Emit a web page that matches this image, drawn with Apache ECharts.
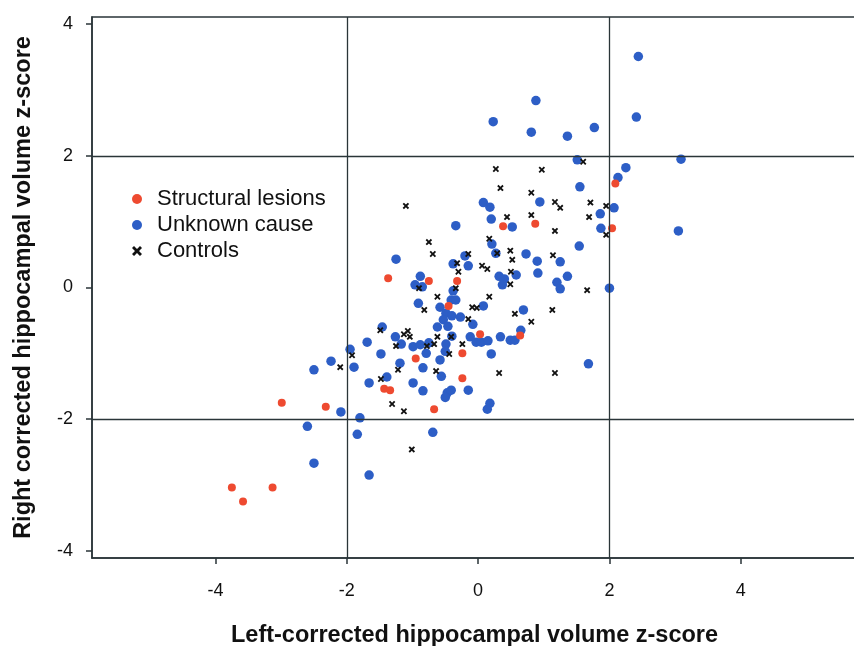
<!DOCTYPE html>
<html>
<head>
<meta charset="utf-8">
<script src="https://cdn.jsdelivr.net/npm/echarts@6/dist/echarts.min.js"></script>
<style>
html,body{margin:0;padding:0;background:#fff;}
#chart{width:854px;height:646px;}
</style>
</head>
<body>
<div id="chart"></div>
<script>
// ---- data (z-scores: [left, right]) ----
var structuralLesions = [
  [-3.75,-3.04],[-3.58,-3.25],[-3.13,-3.04],[-2.99,-1.75],[-2.32,-1.81],
  [-1.37,0.14],[-1.43,-1.54],[-1.34,-1.56],[-0.75,0.10],[-0.32,0.10],
  [-0.45,-0.28],[0.03,-0.71],[0.64,-0.73],[-0.95,-1.08],[-0.24,-1.00],
  [-0.24,-1.38],[-0.67,-1.85],[0.38,0.93],[0.87,0.97],[2.09,1.58],[2.04,0.90]
];
var unknownCause = [
  [2.44,3.51],[0.88,2.84],[0.23,2.52],[2.41,2.59],[1.77,2.43],[0.81,2.36],[1.36,2.30],
  [1.51,1.94],[3.09,1.95],[2.25,1.82],[2.13,1.67],[1.55,1.53],[0.94,1.30],[0.08,1.29],
  [0.18,1.22],[2.07,1.21],[1.86,1.12],[0.20,1.04],[-0.34,0.94],[0.52,0.92],[1.87,0.90],
  [3.05,0.86],[0.21,0.66],[1.54,0.63],[0.27,0.52],[0.73,0.51],[0.90,0.40],[-0.20,0.48],
  [-1.25,0.43],[-0.38,0.36],[-0.15,0.33],[1.25,0.39],[0.91,0.22],[1.36,0.17],[1.20,0.08],
  [1.25,-0.02],[2.00,-0.01],[0.32,0.17],[0.40,0.13],[0.37,0.04],[0.58,0.19],[-0.88,0.17],
  [-0.96,0.04],[-0.85,0.01],[-0.38,-0.05],[-0.41,-0.19],[-0.34,-0.19],[-0.91,-0.24],
  [-0.58,-0.30],[-0.49,-0.39],[-0.40,-0.43],[-0.53,-0.49],[-0.27,-0.45],[-0.46,-0.59],
  [-0.62,-0.60],[-0.08,-0.56],[0.08,-0.28],[0.69,-0.34],[0.65,-0.65],[-0.40,-0.74],
  [-0.12,-0.75],[-0.03,-0.83],[0.05,-0.83],[0.15,-0.81],[0.34,-0.75],[0.49,-0.80],
  [0.56,-0.80],[-1.46,-0.60],[-1.26,-0.75],[-1.17,-0.86],[-0.99,-0.90],[-0.88,-0.87],
  [-0.75,-0.84],[-0.79,-1.00],[-0.49,-0.86],[-0.50,-0.97],[-0.58,-1.10],[-1.48,-1.01],
  [-1.19,-1.15],[-0.84,-1.22],[-1.39,-1.36],[-0.56,-1.35],[-0.99,-1.45],[-0.84,-1.57],
  [-0.47,-1.60],[-0.41,-1.56],[-0.50,-1.67],[-0.15,-1.56],[0.20,-1.01],[0.18,-1.76],
  [0.14,-1.85],[1.68,-1.16],[-0.69,-2.20],[-1.69,-0.83],[-1.95,-0.94],[-1.89,-1.21],
  [-2.24,-1.12],[-2.50,-1.25],[-1.66,-1.45],[-2.09,-1.89],[-1.80,-1.98],[-2.60,-2.11],
  [-1.84,-2.23],[-2.50,-2.67],[-1.66,-2.85]
];
var controls = [
  [0.27,1.80],[0.97,1.79],[1.60,1.91],[0.34,1.51],[0.81,1.44],[1.17,1.30],[1.25,1.21],
  [1.71,1.29],[1.95,1.24],[1.69,1.07],[-1.10,1.24],[0.44,1.07],[0.81,1.10],[1.17,0.86],
  [1.95,0.80],[-0.75,0.69],[0.17,0.74],[-0.69,0.51],[-0.15,0.51],[0.29,0.52],[0.49,0.56],
  [0.52,0.42],[1.14,0.49],[-0.32,0.37],[-0.30,0.24],[0.06,0.33],[0.14,0.28],[0.50,0.24],
  [0.49,0.05],[-0.34,-0.01],[-0.90,-0.01],[-0.62,-0.14],[0.17,-0.14],[-0.82,-0.34],
  [-0.09,-0.30],[-0.02,-0.31],[-0.15,-0.48],[0.56,-0.40],[1.13,-0.34],[0.81,-0.52],
  [1.66,-0.04],[-1.49,-0.65],[-1.07,-0.66],[-1.04,-0.75],[-1.13,-0.71],[-1.25,-0.89],
  [-0.62,-0.75],[-0.41,-0.75],[-0.67,-0.86],[-0.78,-0.89],[-0.24,-0.86],[-0.44,-1.01],
  [-1.92,-1.03],[-2.10,-1.21],[-1.22,-1.25],[-0.64,-1.27],[0.32,-1.30],[1.17,-1.30],
  [-1.48,-1.39],[-1.31,-1.77],[-1.13,-1.88],[-1.01,-2.46]
];
var tickValues = [-4, -2, 0, 2, 4];
var cutoffs = [-2, 2];
var seriesNames = ['Structural lesions', 'Unknown cause', 'Controls'];
var xTitle = 'Left-corrected hippocampal volume z-score';
var yTitle = 'Right corrected hippocampal volume z-score';

// ---- chart ----
var frame = '#2a3538';
var crossPath = 'path://M2,0 L5,3 L8,0 L10,2 L7,5 L10,8 L8,10 L5,7 L2,10 L0,8 L3,5 L0,2 Z';
var font = '"Liberation Sans", Arial, Helvetica, sans-serif';

var chart = echarts.init(document.getElementById('chart'), null, {renderer: 'canvas'});
var axisCommon = {
  type: 'value',
  splitLine: {show: false},
  axisLine: {show: true, onZero: false, lineStyle: {color: frame, width: 1.5}},
  axisTick: {show: true, length: 6, customValues: tickValues, lineStyle: {color: frame, width: 1.5}},
  axisLabel: {customValues: tickValues, color: '#111', fontSize: 18, fontFamily: font},
  nameLocation: 'middle',
  nameTextStyle: {color: '#111', fontSize: 23.5, fontWeight: 'bold', fontFamily: font}
};
var markLines = [];
cutoffs.forEach(function (c) { markLines.push({xAxis: c}); markLines.push({yAxis: c}); });

chart.setOption({
  animation: false,
  backgroundColor: '#fff',
  grid: {left: 92, right: -3, top: 17, bottom: 88, outerBoundsMode: 'none', containLabel: false,
    show: true, borderColor: frame, borderWidth: 1.5, backgroundColor: 'transparent'},
  xAxis: Object.assign({}, axisCommon, {
    min: -5.88, max: 5.77, name: xTitle, nameGap: 66,
    axisLabel: Object.assign({}, axisCommon.axisLabel, {margin: 24})
  }),
  yAxis: Object.assign({}, axisCommon, {
    min: -4.11, max: 4.11, name: yTitle, nameGap: 56,
    axisLabel: Object.assign({}, axisCommon.axisLabel, {margin: 19})
  }),
  legend: {
    orient: 'vertical', left: 127, top: 183, itemGap: 4,
    itemWidth: 10, itemHeight: 10,
    textStyle: {color: '#111', fontSize: 22, fontFamily: font, padding: [0, 0, 0, 10]},
    data: [
      {name: seriesNames[0], icon: 'circle', itemStyle: {color: '#ee4a30'}},
      {name: seriesNames[1], icon: 'circle'},
      {name: seriesNames[2], icon: crossPath}
    ]
  },
  series: [
    {
      name: seriesNames[1], type: 'scatter', data: unknownCause, symbol: 'circle', symbolSize: 9.5,
      itemStyle: {color: '#2d5ec6', opacity: 1}, z: 2,
      markLine: {silent: true, symbol: 'none', label: {show: false}, animation: false,
        lineStyle: {color: frame, width: 1.3, type: 'solid'}, data: markLines}
    },
    {
      name: seriesNames[0], type: 'scatter', data: structuralLesions, symbol: 'circle', symbolSize: 8,
      itemStyle: {color: '#ee4a30', opacity: 1}, z: 3
    },
    {
      name: seriesNames[2], type: 'scatter', data: controls, symbol: crossPath, symbolSize: 6.5,
      itemStyle: {color: '#111', opacity: 1}, z: 4
    }
  ]
});
</script>
</body>
</html>
